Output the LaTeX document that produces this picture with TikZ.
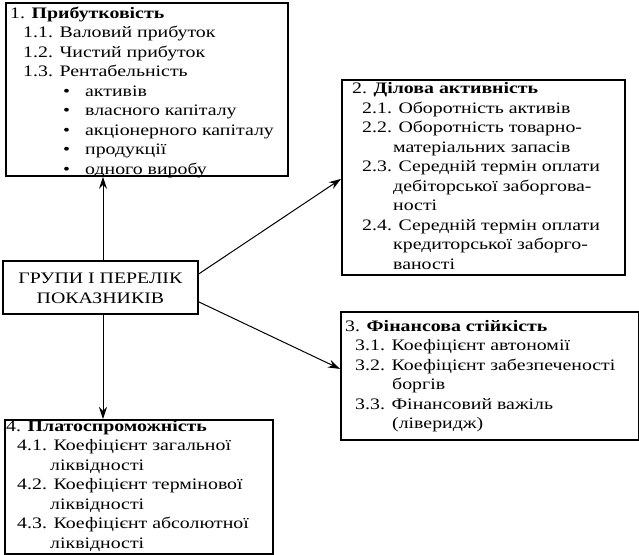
\documentclass[tikz,border=0pt]{standalone}
\usepackage{fontspec}
\setmainfont{Liberation Serif}[FakeStretch=1.24]
\usetikzlibrary{arrows.meta}
\begin{document}
\begin{tikzpicture}[x=1pt,y=-1pt,
  box/.style={draw, line width=1.8pt, inner sep=0, anchor=north west},
  txt/.style={inner sep=0, align=left, anchor=base west, font=\fontsize{16}{19.5}\selectfont},
  ctxt/.style={inner sep=0, align=center, anchor=base, font=\fontsize{16}{19.5}\selectfont},
  arr/.style={line width=1pt, -{Stealth[length=12pt,width=8pt]}}]
\useasboundingbox (0,0) rectangle (639,554);
% boxes
\node[box, minimum width=282pt, minimum height=173pt] (b1) at (5,2) {};
\node[box, minimum width=283pt, minimum height=195pt] (b2) at (341,79) {};
\node[box, minimum width=298pt, minimum height=128pt] (b3) at (340,311) {};
\node[box, minimum width=268pt, minimum height=134pt] (b4) at (4,419) {};
\node[box, minimum width=195pt, minimum height=53pt] (c) at (2,260) {};
% texts (anchored at the baseline of the last line)
\node[txt] (t1) at (10,174) {1. \textbf{Прибутковість}\\
\hspace*{13pt}1.1. Валовий прибуток\\
\hspace*{13pt}1.2. Чистий прибуток\\
\hspace*{13pt}1.3. Рентабельність\\
\hspace*{53pt}\makebox[22pt][l]{•}активів\\
\hspace*{53pt}\makebox[22pt][l]{•}власного капіталу\\
\hspace*{53pt}\makebox[22pt][l]{•}акціонерного капіталу\\
\hspace*{53pt}\makebox[22pt][l]{•}продукції\\
\hspace*{53pt}\makebox[22pt][l]{•}одного виробу};
\node[txt] (t2) at (352,269) {2. \textbf{Ділова активність}\\
\hspace*{10pt}2.1. Оборотність активів\\
\hspace*{10pt}2.2. Оборотність товарно-\\
\hspace*{41pt}матеріальних запасів\\
\hspace*{10pt}2.3. Середній термін оплати\\
\hspace*{41pt}дебіторської заборгова-\\
\hspace*{41pt}ності\\
\hspace*{10pt}2.4. Середній термін оплати\\
\hspace*{41pt}кредиторської заборго-\\
\hspace*{41pt}ваності};
\node[txt] (t3) at (345,428.5) {3. \textbf{Фінансова стійкість}\\
\hspace*{10pt}3.1. Коефіцієнт автономії\\
\hspace*{10pt}3.2. Коефіцієнт забезпеченості\\
\hspace*{47pt}боргів\\
\hspace*{10pt}3.3. Фінансовий важіль\\
\hspace*{47pt}(ліверидж)};
\node[txt] (t4) at (6,548) {4. \textbf{Платоспроможність}\\
\hspace*{11pt}4.1. Коефіцієнт загальної\\
\hspace*{44pt}ліквідності\\
\hspace*{11pt}4.2. Коефіцієнт термінової\\
\hspace*{44pt}ліквідності\\
\hspace*{11pt}4.3. Коефіцієнт абсолютної\\
\hspace*{44pt}ліквідності};
\node[ctxt] (ct) at ([yshift=-16pt]c.center) {ГРУПИ І ПЕРЕЛІК\\ПОКАЗНИКІВ};
% connectors
\coordinate (ax) at (103,0);
\draw[arr] (c.north -| ax) -- (b1.south -| ax);
\draw[arr] (c.south -| ax) -- (b4.north -| ax);
\draw[arr] ([yshift=13.5pt]c.east) -- ([yshift=-1.5pt]b2.west);
\draw[arr] ([yshift=-14.5pt]c.east) -- ([yshift=7pt]b3.west);
\end{tikzpicture}
\end{document}
